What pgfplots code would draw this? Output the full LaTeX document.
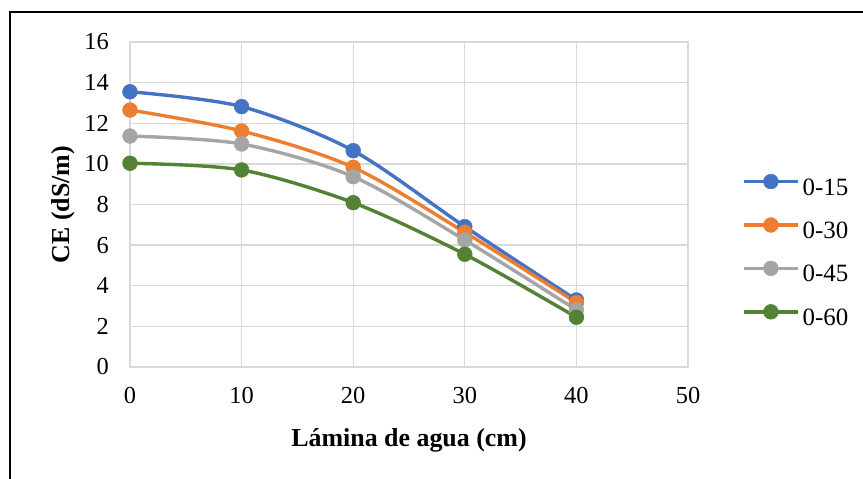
\documentclass[border=0pt]{standalone}
\usepackage{pgfplots}
\pgfplotsset{compat=1.18}
\usepackage{fontspec}
\setmainfont{Liberation Serif}
\definecolor{cblue}{HTML}{4472C4}
\definecolor{corange}{HTML}{ED7D31}
\definecolor{cgray}{HTML}{A5A5A5}
\definecolor{cgreen}{HTML}{548235}
\definecolor{gridc}{HTML}{D9D9D9}
\pgfplotsset{
  ser/.style={color=#1, line width=3.4bp, smooth, tension=0.5, mark=*, mark size=7.4bp, mark options={solid, fill=#1, draw=#1, line width=0.5bp}},
}
\begin{document}
\begin{tikzpicture}
\useasboundingbox (-130bp,-112bp) rectangle (733bp,367bp);
\draw[black, line width=1.4bp] (-120bp,-115bp) -- (-120bp,355bp) -- (736bp,355bp);
\begin{axis}[
  at={(0,0)}, anchor=south west,
  scale only axis, width=558bp, height=325bp,
  xmin=0, xmax=50, ymin=0, ymax=16,
  xtick={0,10,20,30,40,50}, ytick={0,2,4,6,8,10,12,14,16},
  grid=major,
  major grid style={draw=gridc, line width=1.3bp},
  axis line style={draw=gridc, line width=1.3bp},
  major tick length=0pt,
  /pgf/number format/assume math mode=true,
  tick label style={font=\fontsize{24.5}{28}\selectfont},
  yticklabel style={inner sep=0pt, anchor=east, xshift=-21bp},
  xticklabel style={inner sep=0pt, anchor=north, yshift=-20bp},
  xlabel={Lámina de agua (cm)},
  ylabel={CE (dS/m)},
  label style={font=\fontsize{26}{30}\selectfont\bfseries},
  xlabel style={at={([yshift=-73bp]axis description cs:0.5,0)}, anchor=center},
  ylabel style={at={([xshift=-67bp]axis description cs:0,0.5)}, anchor=center, rotate=0},
  legend style={at={([yshift=-2bp]axis description cs:1.0968,0.3646)}, anchor=west, draw=none, fill=none,
    inner sep=0pt, row sep=21bp, font=\fontsize{25}{29}\selectfont,
    nodes={inner sep=0pt, anchor=west}, /tikz/every odd column/.append style={column sep=3bp}},
  legend cell align=left,
  legend image code/.code={
    \draw[mark repeat=2, mark phase=2, yshift=6bp] plot coordinates {(0bp,0bp) (27bp,0bp) (54bp,0bp)};
  },
  clip=false,
]
\addplot[ser=cblue] coordinates {(0,13.55) (10,12.82) (20,10.65) (30,6.91) (40,3.30)};
\addlegendentry{0-15}
\addplot[ser=corange] coordinates {(0,12.65) (10,11.62) (20,9.83) (30,6.63) (40,3.17)};
\addlegendentry{0-30}
\addplot[ser=cgray] coordinates {(0,11.37) (10,10.98) (20,9.37) (30,6.25) (40,2.81)};
\addlegendentry{0-45}
\addplot[ser=cgreen] coordinates {(0,10.03) (10,9.70) (20,8.09) (30,5.55) (40,2.45)};
\addlegendentry{0-60}
\end{axis}
\end{tikzpicture}
\end{document}
